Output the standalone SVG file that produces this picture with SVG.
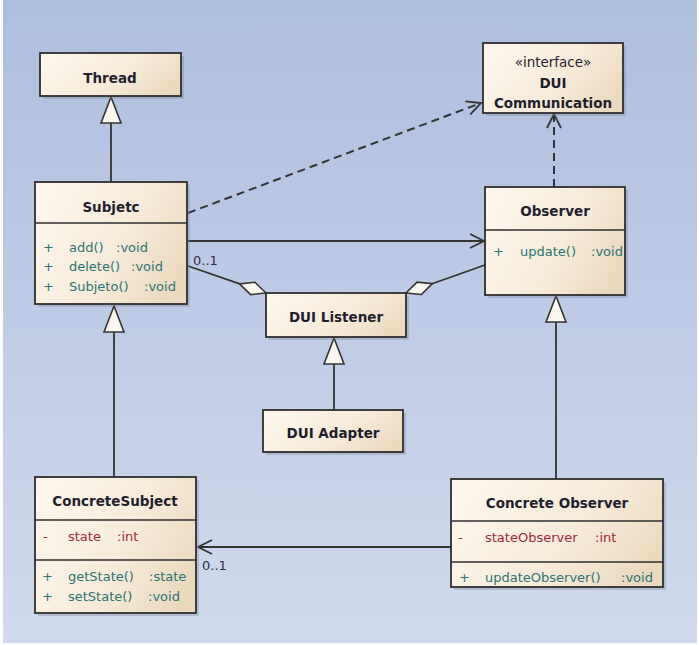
<svg xmlns="http://www.w3.org/2000/svg" width="699" height="645" viewBox="0 0 699 645">
<defs>
<linearGradient id="bg" x1="0" y1="0" x2="0" y2="1">
<stop offset="0" stop-color="#AEBEDF"/>
<stop offset="1" stop-color="#D1DAEE"/>
</linearGradient>
<linearGradient id="nodefill" x1="0" y1="0.3" x2="1" y2="0.7">
<stop offset="0" stop-color="#FCF6EC"/>
<stop offset="0.55" stop-color="#F7EBD9"/>
<stop offset="1" stop-color="#EBD9BE"/>
</linearGradient>
<marker id="open" markerUnits="userSpaceOnUse" markerWidth="20" markerHeight="20" viewBox="-15 -10 20 20" refX="0" refY="0" orient="auto" overflow="visible">
<path d="M -14 -7 L 0 0 L -14 7" fill="none" stroke="#333" stroke-width="1.8"/>
</marker>
<marker id="gen" markerUnits="userSpaceOnUse" markerWidth="30" markerHeight="30" viewBox="-28 -12 30 24" refX="0" refY="0" orient="auto" overflow="visible">
<path d="M 0 0 L -26 -10 L -26 10 Z" fill="#FBF8F2" stroke="#333" stroke-width="1.6"/>
</marker>
<marker id="agg" markerUnits="userSpaceOnUse" markerWidth="32" markerHeight="20" viewBox="-30 -10 32 20" refX="0" refY="0" orient="auto" overflow="visible">
<path d="M 0 0 L -14 -6.5 L -28 0 L -14 6.5 Z" fill="#FBF8F2" stroke="#333" stroke-width="1.6"/>
</marker>
<clipPath id="obsclip"><rect x="486" y="231" width="138" height="63"/></clipPath>
</defs>
<style>
.box{fill:url(#nodefill);stroke:#2E2E2E;stroke-width:1.8}
.shadow{fill:#7F8799;opacity:0.35}
.div{stroke:#2E2E2E;stroke-width:1.5}
.title{font-family:"DejaVu Sans",Verdana,sans-serif;font-weight:bold;font-size:13.5px;fill:#1F1F2E;text-anchor:middle}
.stereo{font-family:"DejaVu Sans",Verdana,sans-serif;font-size:13.5px;fill:#1F1F2E;text-anchor:middle}
.op{font-family:"DejaVu Sans",Verdana,sans-serif;font-size:13px;fill:#2A7474}
.attr{font-family:"DejaVu Sans",Verdana,sans-serif;font-size:13px;fill:#A3283E}
.mult{font-family:"DejaVu Sans",Verdana,sans-serif;font-size:13px;fill:#2E2E40}
.line{fill:none;stroke:#333;stroke-width:1.8}
.dash{fill:none;stroke:#333;stroke-width:2;stroke-dasharray:8 5}
</style>
<rect x="0" y="0" width="699" height="645" fill="#FFFFFF"/>
<rect x="3" y="0" width="694" height="643" fill="url(#bg)"/>

<g id="connectors">
<line class="line" x1="111" y1="182" x2="111" y2="97" marker-end="url(#gen)"/>
<line class="dash" x1="188" y1="213" x2="481" y2="103" marker-end="url(#open)"/>
<line class="dash" x1="554" y1="187" x2="554" y2="114" marker-end="url(#open)"/>
<line class="line" x1="188" y1="241" x2="484" y2="241" marker-end="url(#open)"/>
<line class="line" x1="188" y1="266" x2="266" y2="293" marker-end="url(#agg)"/>
<line class="line" x1="485" y1="265" x2="406" y2="293" marker-end="url(#agg)"/>
<line class="line" x1="334" y1="410" x2="334" y2="338" marker-end="url(#gen)"/>
<line class="line" x1="114" y1="477" x2="114" y2="306" marker-end="url(#gen)"/>
<line class="line" x1="556" y1="479" x2="556" y2="296" marker-end="url(#gen)"/>
<line class="line" x1="451" y1="547" x2="198" y2="547" marker-end="url(#open)"/>
<text class="mult" x="193" y="265">0..1</text>
<text class="mult" x="202" y="570">0..1</text>
</g>

<g id="thread">
<rect class="shadow" x="43" y="56" width="141" height="43"/>
<rect class="box" x="40" y="53" width="141" height="43"/>
<text class="title" x="110" y="83">Thread</text>
</g>

<g id="dui-communication">
<rect class="shadow" x="486" y="46" width="140" height="70"/>
<rect class="box" x="483" y="43" width="140" height="70"/>
<text class="stereo" x="553" y="67">«interface»</text>
<text class="title" x="553" y="88">DUI</text>
<text class="title" x="553" y="108">Communication</text>
</g>

<g id="subjetc">
<rect class="shadow" x="38" y="185" width="152" height="122"/>
<rect class="box" x="35" y="182" width="152" height="122"/>
<line class="div" x1="35" y1="223" x2="187" y2="223"/>
<text class="title" x="111" y="212">Subjetc</text>
<text class="op" x="43" y="252">+</text>
<text class="op" x="69" y="252">add()<tspan x="116">:void</tspan></text>
<text class="op" x="43" y="271">+</text>
<text class="op" x="69" y="271">delete()<tspan x="131">:void</tspan></text>
<text class="op" x="43" y="291">+</text>
<text class="op" x="69" y="291">Subjeto()<tspan x="144">:void</tspan></text>
</g>

<g id="observer">
<rect class="shadow" x="488" y="190" width="140" height="108"/>
<rect class="box" x="485" y="187" width="140" height="108"/>
<line class="div" x1="485" y1="230" x2="625" y2="230"/>
<text class="title" x="555" y="216">Observer</text>
<g clip-path="url(#obsclip)">
<text class="op" x="493" y="256">+</text>
<text class="op" x="520" y="256">update()<tspan x="591">:void</tspan></text>
</g>
</g>

<g id="dui-listener">
<rect class="shadow" x="269" y="296" width="140" height="44"/>
<rect class="box" x="266" y="293" width="140" height="44"/>
<text class="title" x="336" y="322">DUI Listener</text>
</g>

<g id="dui-adapter">
<rect class="shadow" x="266" y="413" width="140" height="42"/>
<rect class="box" x="263" y="410" width="140" height="42"/>
<text class="title" x="333" y="438">DUI Adapter</text>
</g>

<g id="concrete-subject">
<rect class="shadow" x="38" y="480" width="161" height="136"/>
<rect class="box" x="35" y="477" width="161" height="136"/>
<line class="div" x1="35" y1="520" x2="196" y2="520"/>
<line class="div" x1="35" y1="560" x2="196" y2="560"/>
<text class="title" x="115" y="506">ConcreteSubject</text>
<text class="attr" x="43" y="541">-</text>
<text class="attr" x="68" y="541">state<tspan x="117">:int</tspan></text>
<text class="op" x="42" y="581">+</text>
<text class="op" x="68" y="581">getState()<tspan x="149">:state</tspan></text>
<text class="op" x="42" y="601">+</text>
<text class="op" x="68" y="601">setState()<tspan x="148">:void</tspan></text>
</g>

<g id="concrete-observer">
<rect class="shadow" x="454" y="482" width="212" height="108"/>
<rect class="box" x="451" y="479" width="212" height="108"/>
<line class="div" x1="451" y1="521" x2="663" y2="521"/>
<line class="div" x1="451" y1="562" x2="663" y2="562"/>
<text class="title" x="557" y="508">Concrete Observer</text>
<text class="attr" x="458" y="542">-</text>
<text class="attr" x="485" y="542">stateObserver<tspan x="595">:int</tspan></text>
<text class="op" x="459" y="582">+</text>
<text class="op" x="485" y="582">updateObserver()<tspan x="621">:void</tspan></text>
</g>
</svg>
